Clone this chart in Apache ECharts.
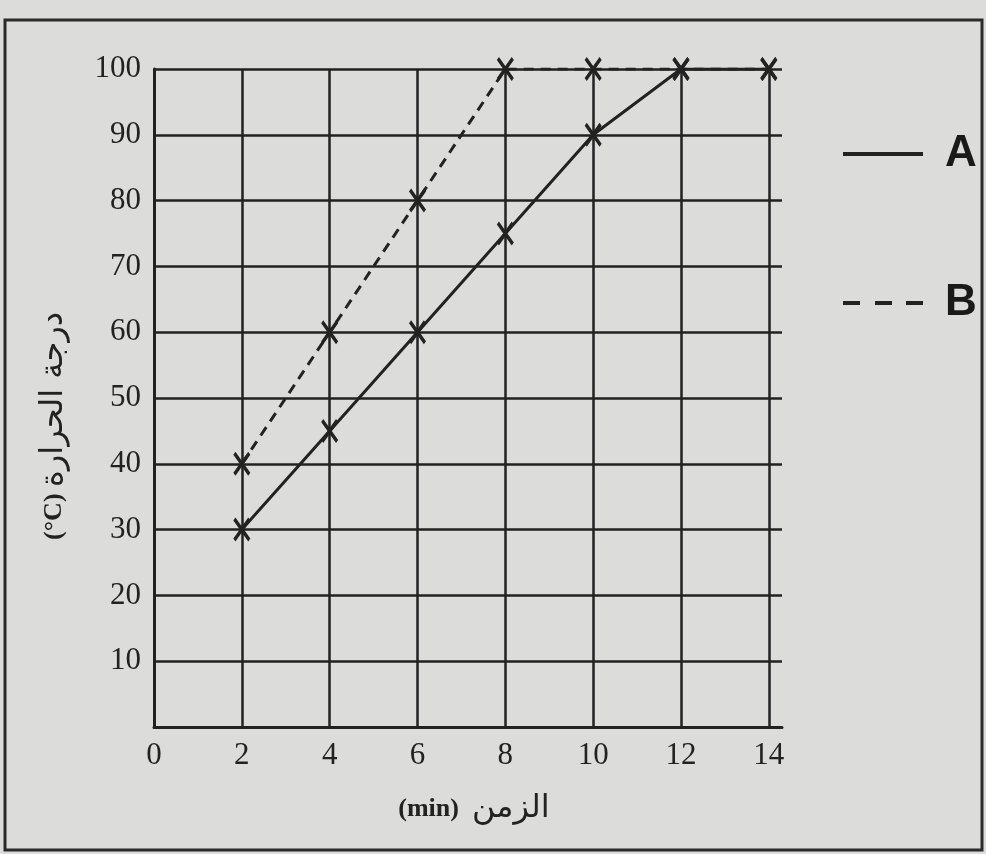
<!DOCTYPE html>
<html>
<head>
<meta charset="utf-8">
<script src="https://cdn.jsdelivr.net/npm/echarts@6/dist/echarts.min.js"></script>
<style>
  html, body { margin: 0; padding: 0; background: #dcdcda; }
  #chart { width: 986px; height: 854px; }
</style>
</head>
<body>
<div id="chart"></div>
<script>
// data
const times = [2, 4, 6, 8, 10, 12, 14];
const tempA = [30, 45, 60, 75, 90, 100, 100];
const tempB = [40, 60, 80, 100, 100, 100, 100];
const xTicks = [0, 2, 4, 6, 8, 10, 12, 14];
const yTicks = [10, 20, 30, 40, 50, 60, 70, 80, 90, 100];

const ink = '#222';
const serif = "'Liberation Serif', 'DejaVu Sans', serif";
const crossMark = 'path://M0,2.5L2.5,0L20,17.5L17.5,20Z M17.5,0L20,2.5L2.5,20L0,17.5Z';

// rich styles for the mixed arabic / latin axis names
const nameRich = {
    lat: { fontFamily: serif, fontSize: 26, fontWeight: 'bold', color: ink },
    ar: { fontFamily: "'DejaVu Sans', sans-serif", fontSize: 32, color: ink }
};

let chart = echarts.init(document.getElementById('chart'));

let option = {
    backgroundColor: '#dcdcda',
    animation: false,
    grid: {
        left: 154,
        right: 204,
        top: 69,
        bottom: 127
    },
    graphic: [
        {
            type: 'rect',
            shape: { x: 5, y: 20, width: 977, height: 830 },
            style: { fill: 'none', stroke: '#2b2b2b', lineWidth: 3 },
            silent: true
        }
    ],
    legend: {
        orient: 'vertical',
        left: 838,
        top: 127,
        itemWidth: 80,
        itemHeight: 4,
        itemGap: 105,
        selectedMode: false,
        textStyle: {
            fontFamily: "'Liberation Sans', Arial, sans-serif",
            fontSize: 44,
            fontWeight: 'bold',
            lineHeight: 44,
            color: '#1a1a1a',
            padding: [0, 0, 0, 17]
        },
        data: [
            { name: 'A', icon: 'path://M0,0H80V4H0Z' },
            { name: 'B', icon: 'path://M0,0H17V4H0Z M32,0H49V4H32Z M63,0H80V4H63Z' }
        ]
    },
    xAxis: {
        type: 'value',
        min: 0,
        max: 14.3,
        interval: 2,
        name: '{lat|(min)\u00a0\u00a0}{ar|الزمن}',
        nameLocation: 'middle',
        nameGap: 66,
        nameTextStyle: { rich: nameRich, padding: [0, 0, 0, 12] },
        axisLine: { lineStyle: { color: ink, width: 3 } },
        axisTick: { show: false },
        axisLabel: {
            fontFamily: serif,
            fontSize: 31,
            color: ink,
            margin: 13,
            showMaxLabel: false,
            formatter: v => (xTicks.indexOf(v) > -1 ? String(v) : '')
        },
        splitLine: {
            show: true,
            showMaxLine: false,
            lineStyle: { color: ink, width: 2.5 }
        }
    },
    yAxis: {
        type: 'value',
        min: 0,
        max: 100,
        interval: 10,
        name: '{lat|(°C)\u00a0}{ar|درجة الحرارة}',
        nameLocation: 'middle',
        nameGap: 84,
        nameTextStyle: { rich: nameRich, padding: [0, 56, 0, 0] },
        axisLine: { show: true, lineStyle: { color: ink, width: 3 } },
        axisTick: { show: false },
        axisLabel: {
            fontFamily: serif,
            fontSize: 31,
            color: ink,
            margin: 13,
            showMinLabel: false,
            formatter: v => (yTicks.indexOf(v) > -1 ? String(v) : '')
        },
        splitLine: {
            show: true,
            lineStyle: { color: ink, width: 2.5 }
        }
    },
    series: [
        {
            name: 'B',
            type: 'line',
            data: times.map((t, i) => [t, tempB[i]]),
            symbol: crossMark,
            symbolSize: [17, 24],
            itemStyle: { color: ink },
            lineStyle: { color: ink, width: 3, type: [10, 7] },
            emphasis: { disabled: true },
            z: 3
        },
        {
            name: 'A',
            type: 'line',
            data: times.map((t, i) => [t, tempA[i]]),
            symbol: crossMark,
            symbolSize: [17, 24],
            itemStyle: { color: ink },
            lineStyle: { color: ink, width: 3 },
            emphasis: { disabled: true },
            z: 4
        }
    ]
};

chart.setOption(option);
</script>
</body>
</html>
